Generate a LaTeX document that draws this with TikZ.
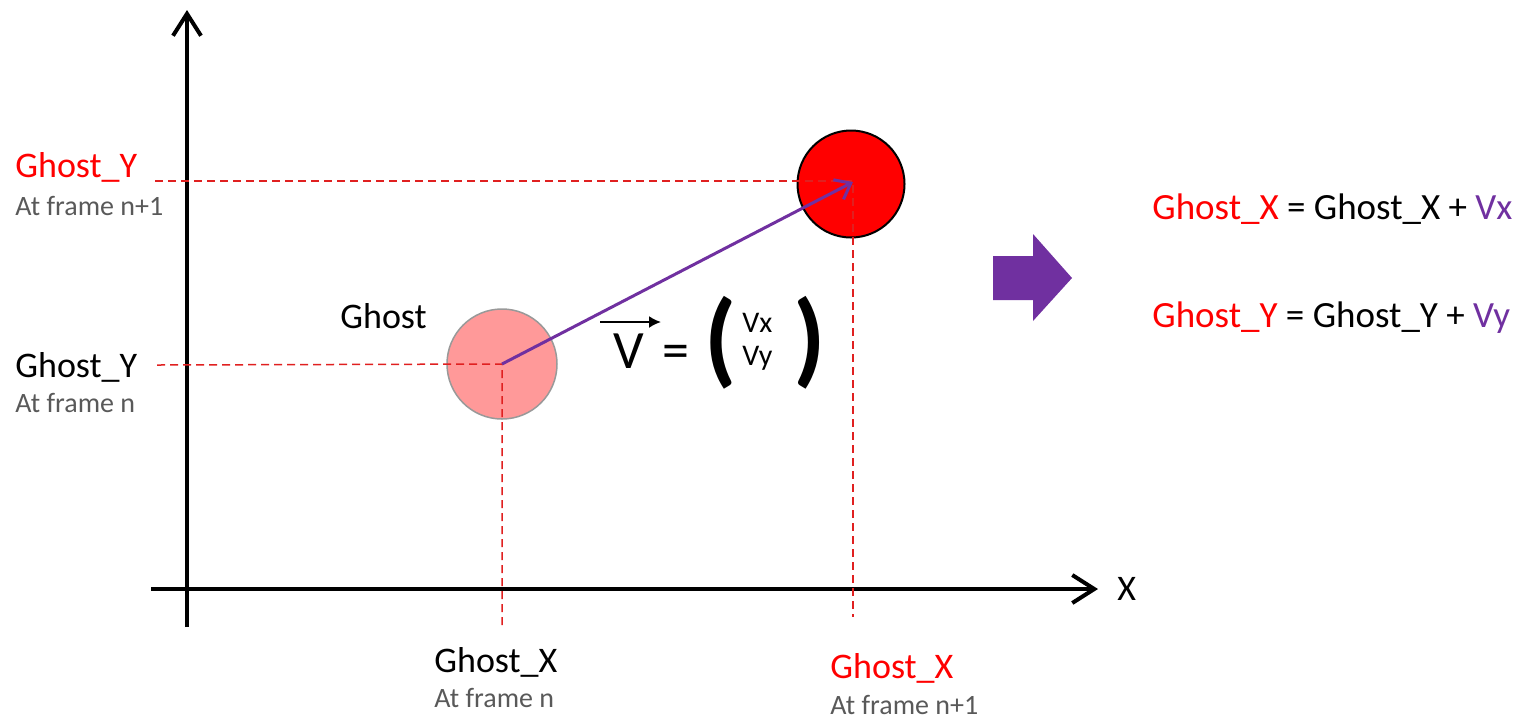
\documentclass[tikz,border=0pt]{standalone}
\usepackage{fontspec}
\setmainfont{Carlito}
\usetikzlibrary{arrows.meta}
\definecolor{grayt}{HTML}{595959}
\definecolor{vpurple}{HTML}{7030A0}
\definecolor{pinkfill}{HTML}{FF9999}
\definecolor{dashred}{HTML}{E02020}
\tikzset{
  axisline/.style={line width=2.2pt,-{Straight Barb[length=11pt,width=14pt,line width=2pt]}},
  guide/.style={dashred,line width=0.75pt,dash pattern=on 4pt off 2.5pt},
  lbl/.style={anchor=base west,inner sep=0pt,font=\fontsize{18}{21}\selectfont},
  sublbl/.style={anchor=base west,inner sep=0pt,text=grayt,font=\fontsize{14}{16}\selectfont},
  eq/.style={anchor=base west,inner sep=0pt,font=\fontsize{18.5}{22}\selectfont},
  comp/.style={anchor=base west,inner sep=0pt,font=\fontsize{15}{17}\selectfont},
  paren/.style={anchor=center,inner sep=0pt,font=\fontsize{52}{56}\selectfont\bfseries},
  velo/.style={vpurple,line width=1.5pt,-{Straight Barb[length=7pt,width=11pt,line width=1.5pt]}}
}
\begin{document}
\begin{tikzpicture}[x=0.5pt,y=-0.5pt]
\useasboundingbox (0,0) rectangle (1524,719);
% axes
\coordinate (yb) at (187,627);
\coordinate (yt) at (187,10);
\coordinate (xl) at (151,589);
\coordinate (xr) at (1098,589);
\draw[axisline] (yb) -- (yt);
\draw[axisline] (xl) -- (xr);
\node[lbl] (xlab) at (1117,600) {X};
% guide coordinates
\coordinate (g1y) at (157,365);
\coordinate (g1x) at (502,628);
\coordinate (g2y) at (155,181);
\coordinate (g2c) at (853,181);
\coordinate (g2x) at (853,617);
% circles
\node[circle,draw=gray!80,line width=0.75pt,fill=pinkfill,minimum size=55pt,inner sep=0pt] (ghost) at (502,364) {};
\node[circle,draw=black,line width=1pt,fill=red,minimum size=53.5pt,inner sep=0pt] (ghostn) at (851,184) {};
% dashed guides
\draw[guide] (g1y) -- (ghost.center) -- (g1x);
\draw[guide] (g2y) -- (g2c) -- (g2x);
% velocity
\coordinate (vtip) at (853,182);
\draw[velo] (ghost.center) -- (vtip);
% labels left
\node[lbl,text=red] (gyn1) at (15,177) {Ghost\_Y};
\node[sublbl] (gyn1s) at (15,215) {At frame n+1};
\node[lbl] (gyn) at (15,377) {Ghost\_Y};
\node[sublbl] (gyns) at (15,412) {At frame n};
% labels bottom
\node[lbl] (gxn) at (434,672) {Ghost\_X};
\node[sublbl] (gxns) at (434,707) {At frame n};
\node[lbl,text=red] (gxn1) at (830,678) {Ghost\_X};
\node[sublbl] (gxn1s) at (830,714) {At frame n+1};
\node[lbl] (ghostlab) at (340,328) {Ghost};
% vector expression
\node[anchor=base west,inner sep=0pt,font=\fontsize{27}{30}\selectfont] (vV) at (613,368) {V};
\coordinate (va) at (600,322);
\coordinate (vb) at (661,322);
\draw[line width=1pt,-{Latex[length=6pt,width=6pt]}] (va) -- (vb);
\node[anchor=base west,inner sep=0pt,font=\fontsize{27}{30}\selectfont] (veq) at (662,368) {=};
\node[paren] (lp) at (721,343) {(};
\node[comp] (vx) at (742,332) {Vx};
\node[comp] (vy) at (742,365) {Vy};
\node[paren] (rp) at (810,343) {)};
% block arrow
\fill[vpurple] (993,256) -- (1033,256) -- (1033,234) -- (1072,278) -- (1033,321) -- (1033,300) -- (993,300) -- cycle;
% equations
\node[eq] (eqx) at (1152,219) {\textcolor{red}{Ghost\_X} = Ghost\_X + \textcolor{vpurple}{Vx}};
\node[eq] (eqy) at (1152,327) {\textcolor{red}{Ghost\_Y} = Ghost\_Y + \textcolor{vpurple}{Vy}};
\end{tikzpicture}
\end{document}
